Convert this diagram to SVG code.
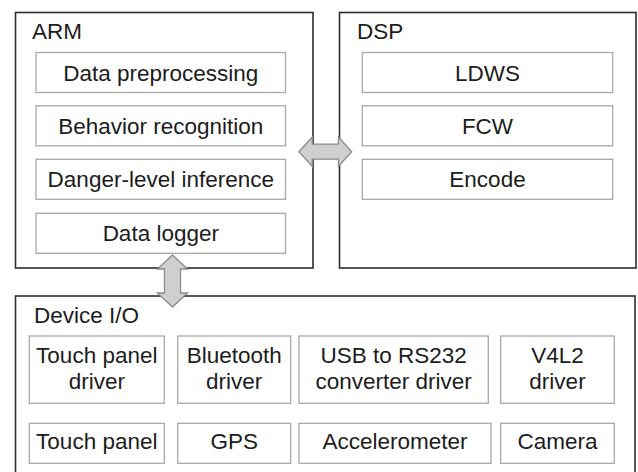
<svg xmlns="http://www.w3.org/2000/svg" width="638" height="472" viewBox="0 0 638 472">
<style>
.outer{fill:#fff;stroke:#2e2e2e;stroke-width:1.6}
.inner{fill:#fff;stroke:#a8a8a8;stroke-width:1.3}
.arrow{fill:#cfcfcf;stroke:#8a8a8a;stroke-width:1.3;stroke-linejoin:miter}
text{font-family:"Liberation Sans",Arial,sans-serif;font-size:22.5px;fill:#1c1c1c}
.c{text-anchor:middle}
</style>
<rect width="638" height="472" fill="#fff"/>
<g id="arm">
<rect class="outer" x="15.5" y="12.5" width="297.5" height="255.5"/>
<text x="32" y="39">ARM</text>
</g>
<g id="arm-pre"><rect class="inner" x="36" y="52.5" width="249.5" height="40"/><text class="c" x="160.8" y="80.5">Data preprocessing</text></g>
<g id="arm-beh"><rect class="inner" x="36" y="105.8" width="249.5" height="40"/><text class="c" x="160.8" y="133.8">Behavior recognition</text></g>
<g id="arm-dan"><rect class="inner" x="36" y="159.3" width="249.5" height="40"/><text class="c" x="160.8" y="187.3">Danger-level inference</text></g>
<g id="arm-log"><rect class="inner" x="36" y="213.3" width="249.5" height="40"/><text class="c" x="160.8" y="241.3">Data logger</text></g>
<g id="dsp">
<rect class="outer" x="339.5" y="12.5" width="296.5" height="255.5"/>
<text x="357" y="39">DSP</text>
</g>
<g id="dsp-ldws"><rect class="inner" x="362.3" y="52.5" width="250.4" height="40"/><text class="c" x="487.5" y="80.5">LDWS</text></g>
<g id="dsp-fcw"><rect class="inner" x="362.3" y="105.8" width="250.4" height="40"/><text class="c" x="487.5" y="133.8">FCW</text></g>
<g id="dsp-enc"><rect class="inner" x="362.3" y="159.3" width="250.4" height="40"/><text class="c" x="487.5" y="187.3">Encode</text></g>
<g id="device">
<rect class="outer" x="15.5" y="296" width="619.5" height="200"/>
<text x="34" y="323">Device I/O</text>
</g>
<g id="dev-tpd"><rect class="inner" x="29.3" y="336" width="135" height="67.3"/><text class="c" x="96.8" y="362.7">Touch panel</text><text class="c" x="96.8" y="389.3">driver</text></g>
<g id="dev-btd"><rect class="inner" x="177.7" y="336" width="113" height="67.3"/><text class="c" x="234.2" y="362.7">Bluetooth</text><text class="c" x="234.2" y="389.3">driver</text></g>
<g id="dev-usb"><rect class="inner" x="299" y="336" width="189.3" height="67.3"/><text class="c" x="393.7" y="362.7">USB to RS232</text><text class="c" x="393.7" y="389.3">converter driver</text></g>
<g id="dev-v4l2"><rect class="inner" x="500.7" y="336" width="113.6" height="67.3"/><text class="c" x="557.5" y="362.7">V4L2</text><text class="c" x="557.5" y="389.3">driver</text></g>
<g id="dev-tp"><rect class="inner" x="29.3" y="423.3" width="135" height="40"/><text class="c" x="96.8" y="449.3">Touch panel</text></g>
<g id="dev-gps"><rect class="inner" x="177.7" y="423.3" width="113" height="40"/><text class="c" x="234.2" y="449.3">GPS</text></g>
<g id="dev-acc"><rect class="inner" x="299" y="423.3" width="192" height="40"/><text class="c" x="395" y="449.3">Accelerometer</text></g>
<g id="dev-cam"><rect class="inner" x="500.7" y="423.3" width="113.6" height="40"/><text class="c" x="557.5" y="449.3">Camera</text></g>
<g id="connectors">
<path class="arrow" d="M299,151.7 L312.3,137 L312.3,144.2 L338.5,144.2 L338.5,137 L351.7,151.7 L338.5,166.4 L338.5,159.2 L312.3,159.2 L312.3,166.4 Z"/>
<path class="arrow" d="M172.5,255 L187.5,269 L180.5,269 L180.5,293 L187.5,293 L172.5,307 L157.5,293 L164.5,293 L164.5,269 L157.5,269 Z"/>
</g>
</svg>
